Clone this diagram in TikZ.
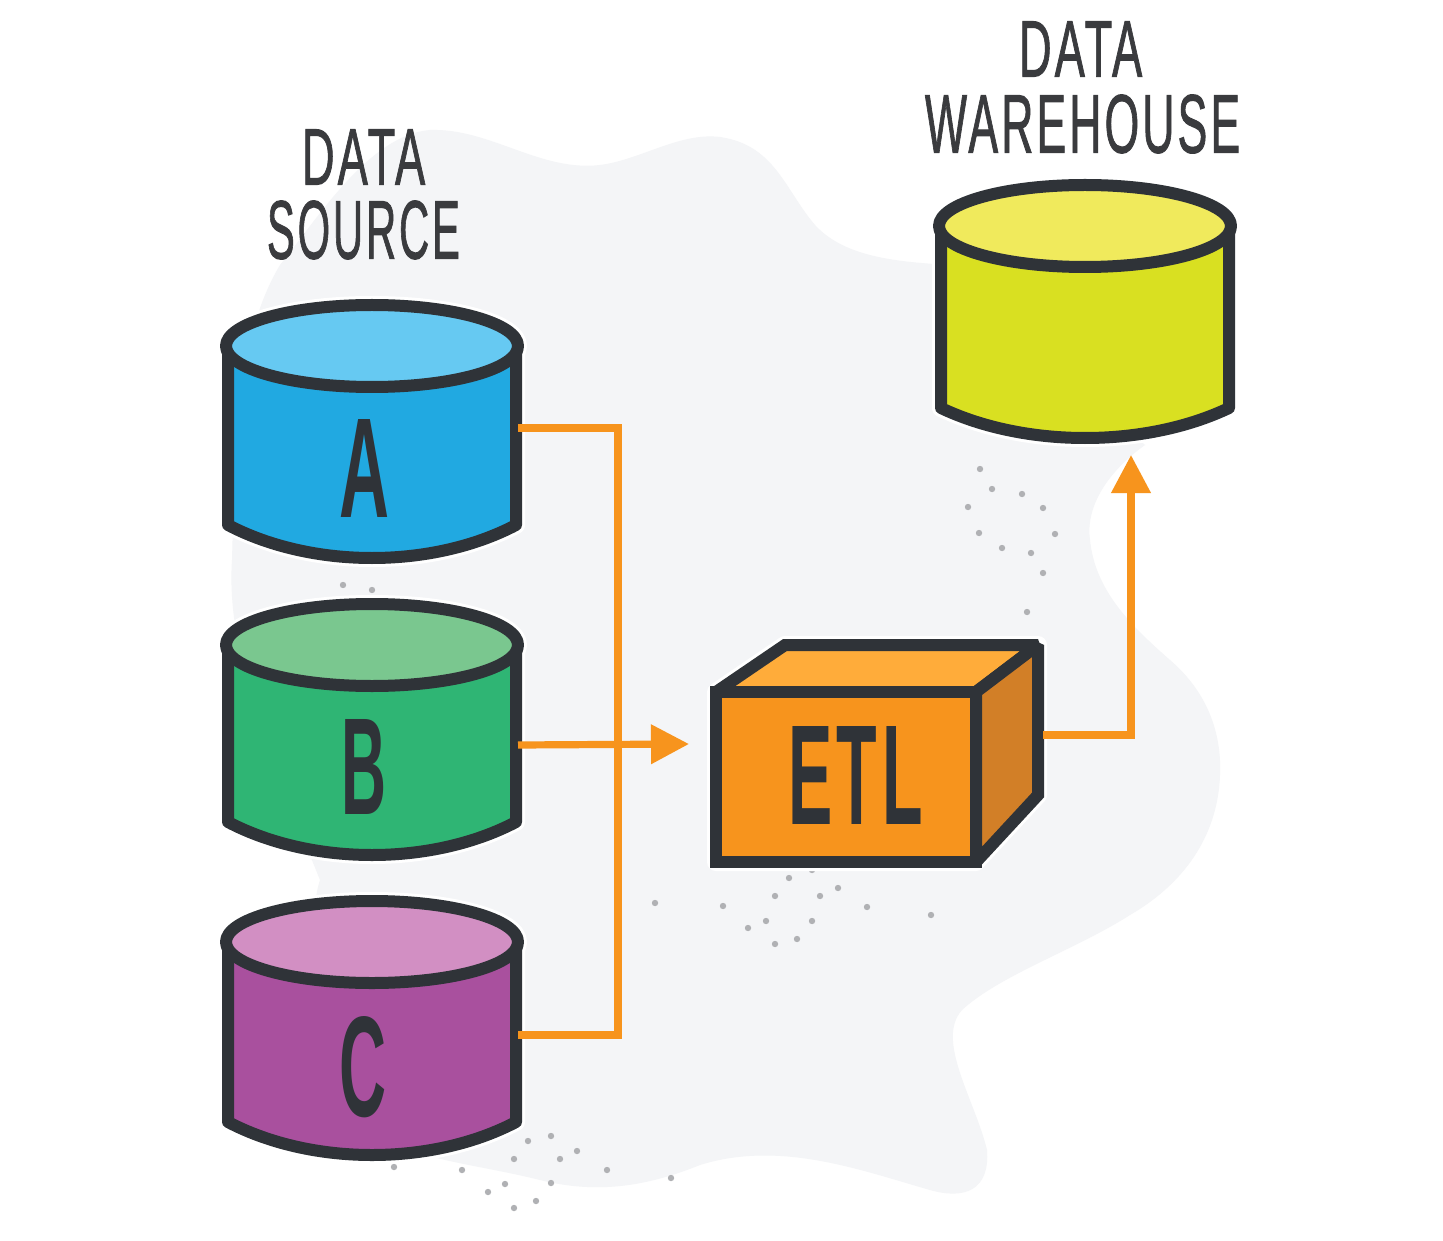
\documentclass[tikz,border=0pt]{standalone}
\usepackage{fontspec}
\usepackage{graphicx}
\setmainfont{Liberation Sans}
\usetikzlibrary{arrows.meta}
\definecolor{blobc}{HTML}{F4F5F7}
\definecolor{inkc}{HTML}{2F3338}
\definecolor{labelc}{HTML}{3A3B3E}
\definecolor{flowc}{HTML}{F7941D}
\definecolor{dotc}{HTML}{B0B1B4}
\definecolor{bodyA}{HTML}{21A9E1}\definecolor{lidA}{HTML}{66C9F2}
\definecolor{bodyB}{HTML}{2FB574}\definecolor{lidB}{HTML}{7AC78F}
\definecolor{bodyC}{HTML}{A9509E}\definecolor{lidC}{HTML}{D28FC3}
\definecolor{bodyW}{HTML}{D9E021}\definecolor{lidW}{HTML}{F0EA5C}
\definecolor{etlfront}{HTML}{F7941D}\definecolor{etltop}{HTML}{FFAC3A}\definecolor{etlside}{HTML}{D27F27}
\newfontfamily\spacedbold[LetterSpace=7,BoldFont={Liberation Sans Bold}]{Liberation Sans Bold}
\newfontfamily\spacedreg[LetterSpace=7,FakeBold=1.4]{Liberation Sans}
\newcommand{\fitted}[3]{\resizebox{\dimexpr #1pt/2\relax}{\dimexpr #2pt/2\relax}{\bfseries #3}}
\newcommand{\fittedsp}[3]{\resizebox{\dimexpr #1pt/2\relax}{\dimexpr #2pt/2\relax}{\spacedbold #3\hspace{-0.07em}}}
\newcommand{\fittedtitle}[3]{\resizebox{\dimexpr #1pt/2\relax}{\dimexpr #2pt/2\relax}{\spacedreg #3\hspace{-0.07em}}}
% \dbcyl{name}{centre x}{top y}{bottom corner y}{bottom centre y}{body}{lid}
\newcommand{\dbcyl}[7]{%
  \draw[halo] (#2-144,#3) -- (#2-144,#4) .. controls (#2-60,#5+11) and (#2+60,#5+11) .. (#2+144,#4) -- (#2+144,#3) -- cycle;
  \draw[halo] (#2,#3) ellipse[x radius=146,y radius=41];
  \path[outline,fill=#6] (#2-144,#3) -- (#2-144,#4) .. controls (#2-60,#5+11) and (#2+60,#5+11) .. (#2+144,#4) -- (#2+144,#3) -- cycle;
  \path[outline,fill=#7] (#2,#3) ellipse[x radius=146,y radius=41];
}
\tikzset{
  x=0.5pt,y=-0.5pt,
  outline/.style={draw=inkc,line width=6pt,line join=round},
  boxline/.style={draw=inkc,line width=6pt,line join=miter,miter limit=1.5},
  halo/.style={draw=white,line width=9pt,line join=round},
  flow/.style={draw=flowc,line width=3.6pt},
  flowtip/.style={-{Triangle[length=19pt,width=19pt]}},
  title/.style={text=labelc,inner sep=0pt},
  letter/.style={text=inkc,inner sep=0pt},
  dot/.style={fill=dotc,draw=none}
}
\begin{document}
\begin{tikzpicture}
\useasboundingbox (0,0) rectangle (1443,1240);
\fill[white] (0,0) rectangle (1443,1240);
% backdrop
\fill[blobc] (430,130) .. controls (490,128) and (540,172) .. (600,165)
  .. controls (640,160) and (680,132) .. (720,137)
  .. controls (775,145) and (785,190) .. (815,225)
  .. controls (845,258) and (900,262) .. (950,265)
  -- (1145,445)
  .. controls (1110,470) and (1085,505) .. (1090,540)
  .. controls (1095,590) and (1130,625) .. (1170,660)
  .. controls (1205,690) and (1222,730) .. (1220,775)
  .. controls (1218,830) and (1190,880) .. (1130,915)
  .. controls (1075,950) and (1000,975) .. (962,1010)
  .. controls (935,1040) and (975,1100) .. (987,1150)
  .. controls (990,1190) and (965,1200) .. (930,1190)
  .. controls (860,1170) and (780,1140) .. (700,1165)
  .. controls (650,1185) and (600,1195) .. (540,1180)
  .. controls (480,1165) and (420,1160) .. (390,1140)
  .. controls (340,1080) and (300,940) .. (320,880)
  .. controls (280,780) and (225,660) .. (232,560)
  .. controls (235,450) and (235,340) .. (280,265)
  .. controls (320,215) and (370,135) .. (430,130) -- cycle;
% dots
\foreach \px/\py in {655/903,723/906,812/870,789/878,775/896,838/888,820/896,867/907,931/915,766/921,748/928,812/921,797/939,775/944,
  551/1136,528/1141,577/1151,514/1159,560/1159,394/1167,462/1170,607/1170,671/1178,505/1184,488/1192,551/1183,536/1201,514/1208,
  980/469,992/489,1022/494,968/507,1043/508,979/533,1055/534,1002/548,1031/553,1043/573,1027/612,343/585,372/590}
  \fill[dot] (\px,\py) circle[radius=3.2];
% cylinders
\dbcyl{cylA}{372}{346}{525}{558}{bodyA}{lidA}
\dbcyl{cylB}{372}{645}{822}{855}{bodyB}{lidB}
\dbcyl{cylC}{372}{942}{1122}{1155}{bodyC}{lidC}
\dbcyl{cylW}{1085}{226}{408}{437}{bodyW}{lidW}
% ETL box
\draw[halo] (716,692) -- (785,645) -- (1038,645) -- (1038,795) -- (976,862) -- (716,862) -- cycle;
\path[boxline,fill=etltop] (716,692) -- (785,645) -- (1038,645) -- (976,692) -- cycle;
\path[boxline,fill=etlside] (976,692) -- (1038,645) -- (1038,795) -- (976,862) -- cycle;
\path[boxline,fill=etlfront] (716,692) rectangle (976,862);
% labels
\node[title] (srcA) at (362,157) {\fittedtitle{120}{55}{DATA}};
\node[title] (srcB) at (362,230) {\fittedtitle{190}{58}{SOURCE}};
\node[title] (whA) at (1079,49) {\fittedtitle{120}{55}{DATA}};
\node[title] (whB) at (1081,124) {\fittedtitle{312}{58}{WAREHOUSE}};
\node[letter] (lblA) at (364,468) {\fitted{50}{98}{A}};
\node[letter] (lblB) at (364,767) {\fitted{45}{95}{B}};
\node[letter] (lblC) at (363,1067) {\fitted{47}{100}{C}};
\node[letter] (lblE) at (853,775) {\fittedsp{130}{98}{ETL}};
% connection points
\coordinate (outA) at (518,428);
\coordinate (outB) at (518,745);
\coordinate (outC) at (518,1035);
\coordinate (busTop) at (618,428);
\coordinate (busBot) at (618,1035);
\coordinate (etlIn) at (689,744);
\coordinate (etlOut) at (1043,735);
\coordinate (elbow) at (1131,735);
\coordinate (whIn) at (1131,455);
% connectors
\draw[flow,line join=miter] (outA) -- (busTop) -- (busBot) -- (outC);
\draw[flow,flowtip] (outB) -- (etlIn);
\draw[flow,flowtip,line join=miter] (etlOut) -- (elbow) -- (whIn);
\end{tikzpicture}
\end{document}
